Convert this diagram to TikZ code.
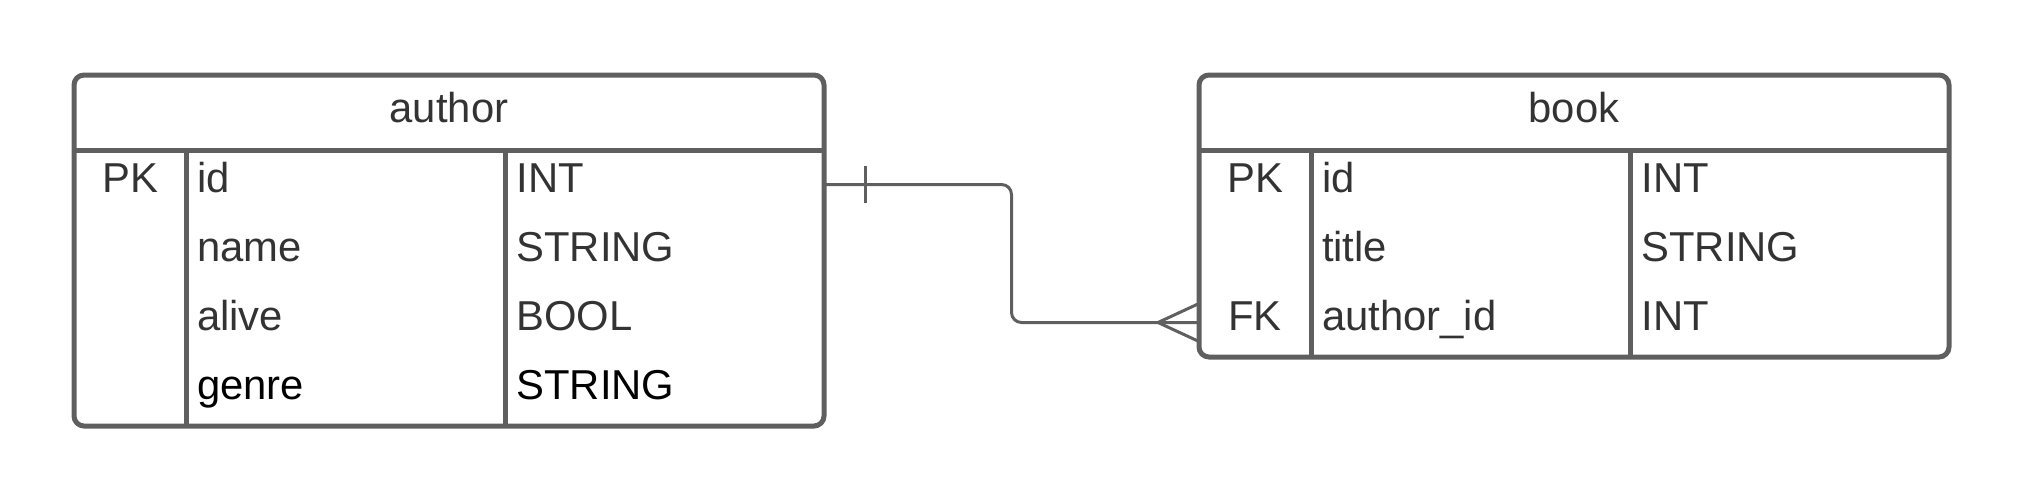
\documentclass[tikz,border=0pt]{standalone}
\usepackage{fontspec}
\setmainfont{Liberation Sans}
\usetikzlibrary{positioning}

\definecolor{linegray}{HTML}{5F5F5F}
\definecolor{textgray}{HTML}{333333}

\begin{document}
\begin{tikzpicture}[x=1pt, y=1pt, font=\fontsize{41.8}{50}\selectfont, text=textgray]
  \tikzset{
    cell/.style={inner ysep=0pt, outer sep=0pt, minimum height=69pt, text height=29pt, text depth=14pt},
    headcell/.style={cell, minimum height=75pt, minimum width=750pt, text height=31pt, text depth=12pt, text centered},
    keycell/.style={cell, inner xsep=0pt, text width=112pt, align=center},
    fieldcell/.style={cell, inner xsep=11pt, text width=297.5pt, align=left},
    typecell/.style={cell, inner xsep=11pt, text width=296.5pt, align=left},
    tableline/.style={draw=linegray, line width=5pt},
    rel/.style={draw=linegray, line width=3pt}
  }

  \useasboundingbox (0,0) rectangle (2025,-503);

  % author
  \node[headcell, anchor=north west] (ahead) at (74,-75) {author};
  \node[keycell, below right=0pt of ahead.south west] (ak1) {PK};
  \node[keycell, below=0pt of ak1] (ak2) {};
  \node[keycell, below=0pt of ak2] (ak3) {};
  \node[keycell, below=0pt of ak3] (ak4) {};
  \node[fieldcell, right=0pt of ak1] (af1) {id};
  \node[fieldcell, right=0pt of ak2] (af2) {name};
  \node[fieldcell, right=0pt of ak3] (af3) {alive};
  \node[fieldcell, right=0pt of ak4, text=black] (af4) {genre};
  \node[typecell, right=0pt of af1] (at1) {INT};
  \node[typecell, right=0pt of af2] (at2) {STRING};
  \node[typecell, right=0pt of af3] (at3) {BOOL};
  \node[typecell, right=0pt of af4, text=black] (at4) {STRING};

  % book
  \node[headcell, anchor=north west] (bhead) at (1199,-75) {book};
  \node[keycell, below right=0pt of bhead.south west] (bk1) {PK};
  \node[keycell, below=0pt of bk1] (bk2) {};
  \node[keycell, below=0pt of bk2] (bk3) {FK};
  \node[fieldcell, right=0pt of bk1] (bf1) {id};
  \node[fieldcell, right=0pt of bk2] (bf2) {title};
  \node[fieldcell, right=0pt of bk3] (bf3) {author\_id};
  \node[typecell, right=0pt of bf1] (bt1) {INT};
  \node[typecell, right=0pt of bf2] (bt2) {STRING};
  \node[typecell, right=0pt of bf3] (bt3) {INT};

  % relation: one author, many books
  \path[rel, rounded corners=10pt] (at1.east) -- ++(187.5,0) |- (bk3.west);
  \path[rel] ([xshift=41pt, yshift=18.5pt]at1.east) -- ([xshift=41pt, yshift=-18.5pt]at1.east);
  \path[rel] ([yshift=19pt]bk3.west) -- ([xshift=-41pt]bk3.west) -- ([yshift=-19pt]bk3.west);

  \draw[tableline, rounded corners=10pt] (ahead.north west) rectangle (at4.south east);
  \draw[tableline] (ahead.south west) -- (ahead.south east);
  \draw[tableline] (ak1.north east) -- (ak4.south east);
  \draw[tableline] (af1.north east) -- (af4.south east);

  \draw[tableline, rounded corners=10pt] (bhead.north west) rectangle (bt3.south east);
  \draw[tableline] (bhead.south west) -- (bhead.south east);
  \draw[tableline] (bk1.north east) -- (bk3.south east);
  \draw[tableline] (bf1.north east) -- (bf3.south east);

\end{tikzpicture}
\end{document}
